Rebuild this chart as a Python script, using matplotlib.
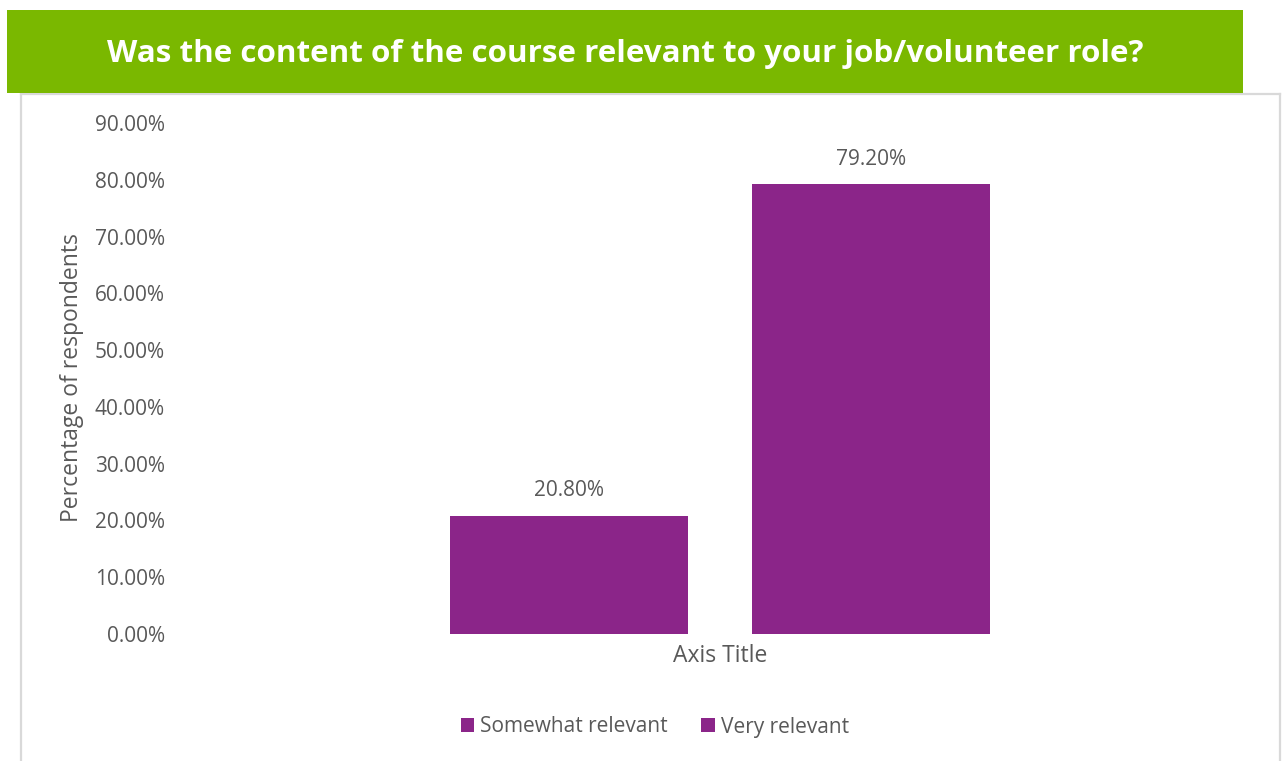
import matplotlib
matplotlib.use("Agg")
import matplotlib.pyplot as plt
from matplotlib.patches import Rectangle
from matplotlib.lines import Line2D
from matplotlib.ticker import FuncFormatter

title = "Was the content of the course relevant to your job/volunteer role?"
series_names = ["Somewhat relevant", "Very relevant"]
values = [20.80, 79.20]
category = "Axis Title"
y_label = "Percentage of respondents"
y_ticks = [0, 10, 20, 30, 40, 50, 60, 70, 80, 90]

bar_color = "#8B2589"
banner_color = "#7AB800"
text_gray = "#595959"
frame_gray = "#D9D9D9"
font = "Open Sans"

W, H = 1282, 761
fig = plt.figure(figsize=(W / 100, H / 100), dpi=100)
fig.patch.set_facecolor("white")

def fx(px):
    return px / W

def fy(py):
    return 1 - py / H

# outer chart frame (open at the bottom)
for xs, ys in [([21, 21], [94, 761]), ([21, 1280], [94, 94]), ([1280, 1280], [94, 761])]:
    fig.add_artist(Line2D([fx(v) for v in xs], [fy(v) for v in ys],
                          color=frame_gray, lw=1.6, transform=fig.transFigure))

# green title banner
fig.add_artist(Rectangle((fx(7), fy(93)), fx(1243) - fx(7), fy(10) - fy(93),
                         facecolor=banner_color, edgecolor="none",
                         transform=fig.transFigure, zorder=3))
fig.text(fx(625), fy(54), title, color="white", fontsize=22.6, fontweight="bold",
         family=font, ha="center", va="center", zorder=4)

ax = fig.add_axes([fx(180), fy(634), fx(1260) - fx(180), fy(123) - fy(634)])
ax.set_xlim(-0.5, 0.5)
ax.set_ylim(0, 90)

width = 0.22
offsets = [-0.14, 0.14]
for name, val, off in zip(series_names, values, offsets):
    ax.bar(off, val, width=width, color=bar_color, label=name)
    ax.annotate(f"{val:.2f}%", (off, val), xytext=(0, 18), textcoords="offset points",
                ha="center", va="center", fontsize=15, color=text_gray, family=font)

ax.set_yticks(y_ticks)
ax.yaxis.set_major_formatter(FuncFormatter(lambda v, p: f"{v:.2f}%"))
ax.set_xticks([0])
ax.set_xticklabels([category])
ax.tick_params(axis="y", length=0, labelsize=15, labelcolor=text_gray, pad=11)
ax.tick_params(axis="x", length=0, labelsize=16.5, labelcolor=text_gray, pad=7)
for lab in ax.get_xticklabels() + ax.get_yticklabels():
    lab.set_family(font)
for s in ax.spines.values():
    s.set_visible(False)

fig.text(fx(72), fy(378), y_label, rotation=90, ha="center", va="center",
         fontsize=16.5, color=text_gray, family=font)

handles = [Rectangle((0, 0), 1, 1, facecolor=bar_color, edgecolor="none") for _ in series_names]
fig.legend(handles, series_names, loc="center", bbox_to_anchor=(fx(655), fy(727)),
           ncol=2, frameon=False, handlelength=0.65, handleheight=0.65,
           handletextpad=0.3, columnspacing=1.6,
           prop={"family": font, "size": 15}, labelcolor=text_gray)

fig.savefig("out.png", dpi=100, facecolor="white")
